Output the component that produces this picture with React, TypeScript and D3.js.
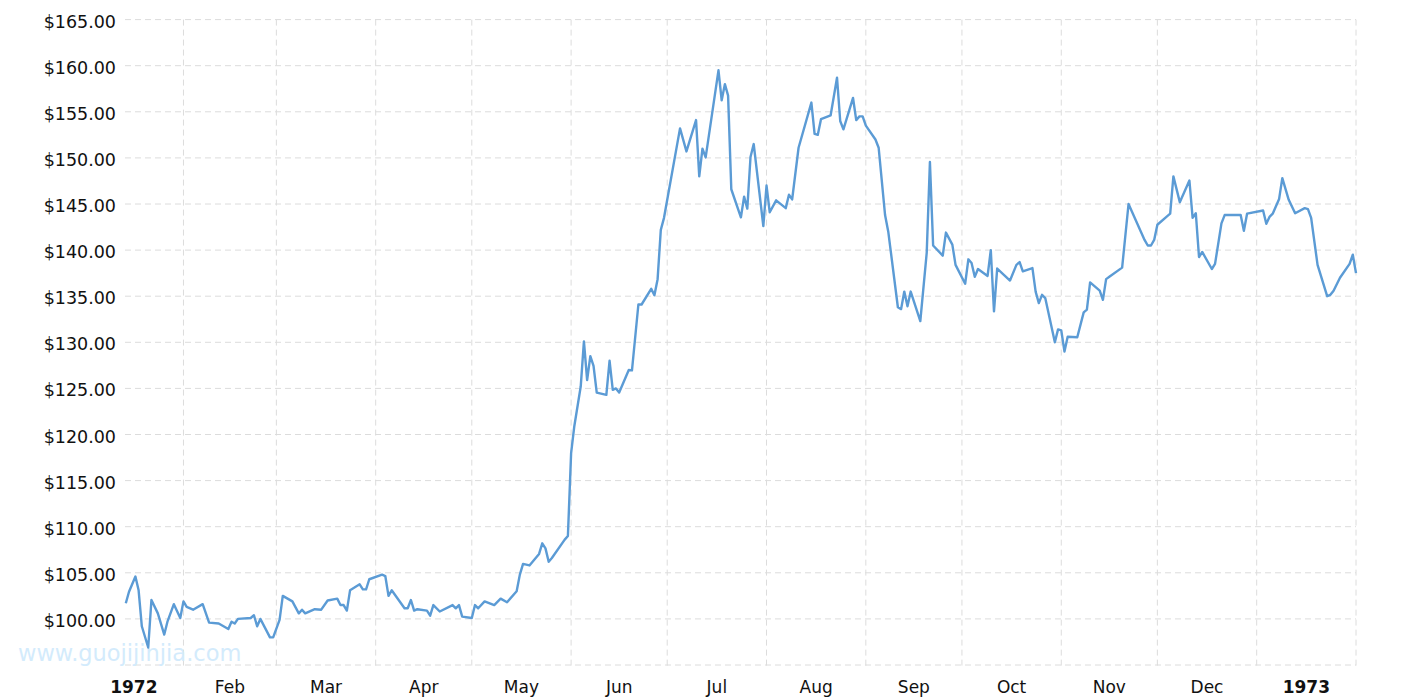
import React from "react";
import * as d3 from "d3";

const dates: string[] = [
  "1972-01-14","1972-01-15","1972-01-17","1972-01-18","1972-01-19","1972-01-21","1972-01-22","1972-01-24","1972-01-26","1972-01-27",
  "1972-01-29","1972-01-31","1972-02-01","1972-02-02","1972-02-04","1972-02-07","1972-02-09","1972-02-12","1972-02-15","1972-02-16",
  "1972-02-17","1972-02-18","1972-02-22","1972-02-23","1972-02-24","1972-02-25","1972-02-28","1972-02-29","1972-03-02","1972-03-03",
  "1972-03-06","1972-03-08","1972-03-09","1972-03-10","1972-03-13","1972-03-15","1972-03-17","1972-03-20","1972-03-21","1972-03-22",
  "1972-03-23","1972-03-24","1972-03-27","1972-03-28","1972-03-29","1972-03-30","1972-04-03","1972-04-04","1972-04-05","1972-04-06",
  "1972-04-10","1972-04-11","1972-04-12","1972-04-13","1972-04-14","1972-04-17","1972-04-18","1972-04-19","1972-04-21","1972-04-25",
  "1972-04-26","1972-04-27","1972-04-28","1972-05-01","1972-05-02","1972-05-03","1972-05-05","1972-05-08","1972-05-10","1972-05-12",
  "1972-05-15","1972-05-16","1972-05-17","1972-05-19","1972-05-22","1972-05-23","1972-05-24","1972-05-25","1972-05-26","1972-05-30",
  "1972-05-31","1972-06-01","1972-06-02","1972-06-04","1972-06-05","1972-06-06","1972-06-07","1972-06-08","1972-06-09","1972-06-12",
  "1972-06-13","1972-06-14","1972-06-15","1972-06-16","1972-06-19","1972-06-20","1972-06-22","1972-06-23","1972-06-26","1972-06-27",
  "1972-06-28","1972-06-29","1972-06-30","1972-07-05","1972-07-07","1972-07-10","1972-07-11","1972-07-12","1972-07-13","1972-07-17",
  "1972-07-18","1972-07-19","1972-07-20","1972-07-21","1972-07-24","1972-07-25","1972-07-26","1972-07-27","1972-07-28","1972-07-31",
  "1972-08-01","1972-08-02","1972-08-04","1972-08-07","1972-08-08","1972-08-09","1972-08-11","1972-08-15","1972-08-16","1972-08-17",
  "1972-08-18","1972-08-21","1972-08-23","1972-08-24","1972-08-25","1972-08-28","1972-08-29","1972-08-30","1972-08-31","1972-09-01",
  "1972-09-04","1972-09-05","1972-09-07","1972-09-08","1972-09-11","1972-09-12","1972-09-13","1972-09-14","1972-09-15","1972-09-18",
  "1972-09-20","1972-09-21","1972-09-22","1972-09-25","1972-09-26","1972-09-28","1972-09-29","1972-10-02","1972-10-03","1972-10-04",
  "1972-10-05","1972-10-06","1972-10-09","1972-10-10","1972-10-11","1972-10-12","1972-10-16","1972-10-18","1972-10-19","1972-10-20",
  "1972-10-23","1972-10-24","1972-10-25","1972-10-26","1972-10-27","1972-10-30","1972-10-31","1972-11-01","1972-11-02","1972-11-03",
  "1972-11-06","1972-11-08","1972-11-09","1972-11-10","1972-11-13","1972-11-14","1972-11-15","1972-11-16","1972-11-20","1972-11-22",
  "1972-11-27","1972-11-28","1972-11-29","1972-11-30","1972-12-01","1972-12-04","1972-12-05","1972-12-06","1972-12-08","1972-12-11",
  "1972-12-12","1972-12-13","1972-12-14","1972-12-15","1972-12-18","1972-12-19","1972-12-21","1972-12-22","1972-12-27","1972-12-28",
  "1972-12-29","1973-01-03","1973-01-04","1973-01-05","1973-01-06","1973-01-08","1973-01-09","1973-01-11","1973-01-13","1973-01-16",
  "1973-01-17","1973-01-18","1973-01-20","1973-01-23","1973-01-24","1973-01-25","1973-01-27","1973-01-30","1973-01-31","1973-02-01",
];

const prices: number[] = [
  101.7,102.95,104.6,103.1,99.2,96.9,102.05,100.6,98.3,99.7,
  101.6,100.1,101.9,101.3,101.0,101.6,99.6,99.5,98.9,99.7,
  99.5,100.0,100.1,100.4,99.2,100.0,98.0,98.0,99.9,102.5,
  101.9,100.6,101.0,100.6,101.05,101.0,102.0,102.2,101.5,101.5,
  100.9,103.1,103.75,103.2,103.2,104.3,104.8,104.65,102.5,103.1,
  101.15,101.15,102.05,100.9,101.05,100.9,100.35,101.5,100.8,101.5,
  101.15,101.5,100.25,100.1,101.5,101.15,101.9,101.5,102.2,101.8,
  103.0,104.8,105.96,105.8,107.05,108.2,107.65,106.2,106.6,108.6,
  109.0,117.97,120.9,125.2,130.1,125.9,128.5,127.45,124.55,124.3,
  128.0,124.85,125.0,124.55,127.0,126.95,134.1,134.1,135.8,135.1,
  136.85,142.2,143.5,153.2,150.7,154.1,148.0,151.0,150.05,159.5,
  156.25,158.0,156.75,146.6,143.55,145.8,144.5,150.1,151.5,142.6,
  147.0,144.1,145.4,144.55,146.0,145.5,151.1,156.0,152.6,152.5,
  154.2,154.6,158.7,154.0,153.1,156.5,154.1,154.5,154.5,153.5,
  152.0,151.1,143.8,142.0,133.8,133.6,135.5,133.9,135.5,132.3,
  139.7,149.55,140.5,139.4,141.9,140.6,138.4,136.35,139.0,138.6,
  137.1,137.95,137.2,140.0,133.35,138.0,136.7,138.4,138.7,137.7,
  138.05,135.5,134.25,135.15,134.8,130.0,131.4,131.3,129.0,130.6,
  130.55,133.25,133.55,136.5,135.6,134.6,136.85,137.1,138.1,145.0,
  141.1,140.5,140.5,141.1,142.75,143.65,143.95,148.0,145.2,147.55,
  143.5,144.0,139.25,139.8,137.95,138.5,142.9,143.8,143.8,142.1,
  143.95,144.3,142.85,143.6,143.95,145.55,147.8,145.45,144.0,144.55,
  144.45,143.5,138.4,135.0,135.15,135.6,137.0,138.5,139.5,137.5,
];

const yTicks: number[] = [95, 100, 105, 110, 115, 120, 125, 130, 135, 140, 145, 150, 155, 160, 165];
const yLabelTicks: number[] = [100, 105, 110, 115, 120, 125, 130, 135, 140, 145, 150, 155, 160, 165];
const monthLabels: string[] = ["1972", "Feb", "Mar", "Apr", "May", "Jun", "Jul", "Aug", "Sep", "Oct", "Nov", "Dec", "1973"];
const monthStarts: string[] = [
  "1972-01-01","1972-02-01","1972-03-01","1972-04-01","1972-05-01","1972-06-01","1972-07-01",
  "1972-08-01","1972-09-01","1972-10-01","1972-11-01","1972-12-01","1973-01-01","1973-02-01",
];
const domainStart = "1972-01-13T18";
const domainEnd = "1973-02-01T00";
const watermark = "www.guojijinjia.com";

const W = 1415, H = 700;
const left = 125, right = 1356, top = 19.6, bottom = 665;
const FONT = "'DejaVu Sans', Verdana, sans-serif";

export default function App() {
  const parse = d3.timeParse("%Y-%m-%d");
  const parseH = d3.timeParse("%Y-%m-%dT%H");
  const data = dates.map((d, i) => ({ date: parse(d) as Date, value: prices[i] }));
  const x = d3.scaleTime().domain([parseH(domainStart) as Date, parseH(domainEnd) as Date]).range([left, right]);
  const y = d3.scaleLinear().domain([95, 165]).range([bottom, top]);
  const line = d3.line<{ date: Date; value: number }>().x(d => x(d.date)).y(d => y(d.value));
  const starts = monthStarts.map(s => parse(s) as Date);

  return (
    <svg width={W} height={H} style={{ position: "absolute", left: 0, top: 0, display: "block" }}>
      <rect width={W} height={H} fill="#fff" />
      {yTicks.map(t => (
        <line key={"y" + t} x1={left} x2={right} y1={y(t)} y2={y(t)} stroke="#dcdcdc" strokeWidth={1} strokeDasharray="6,4" />
      ))}
      {yLabelTicks.map(t => (
        <text key={"yl" + t} x={116} y={y(t) + 8} textAnchor="end" fontFamily={FONT} fontSize={17.5} fill="#111">
          {"$" + t.toFixed(2)}
        </text>
      ))}
      {starts.slice(1).map((s, i) => (
        <line key={"v" + i} x1={x(s)} x2={x(s)} y1={top} y2={bottom + 1} stroke="#dcdcdc" strokeWidth={1} strokeDasharray="6,4" />
      ))}
      <text x={18} y={661} fontFamily={FONT} fontSize={22.5} fill="#d3ebfc">{watermark}</text>
      <path d={line(data) || ""} fill="none" stroke="#5b9bd5" strokeWidth={2.4} strokeLinejoin="round" />
      {monthLabels.map((m, i) => {
        const mid = new Date((starts[i].getTime() + starts[i + 1].getTime()) / 2);
        const bold = i === 0 || i === monthLabels.length - 1;
        return (
          <text key={"m" + i} x={x(mid)} y={693} textAnchor="middle" fontFamily={FONT} fontSize={17}
            fontWeight={bold ? "bold" : "normal"} fill="#111">{m}</text>
        );
      })}
    </svg>
  );
}
